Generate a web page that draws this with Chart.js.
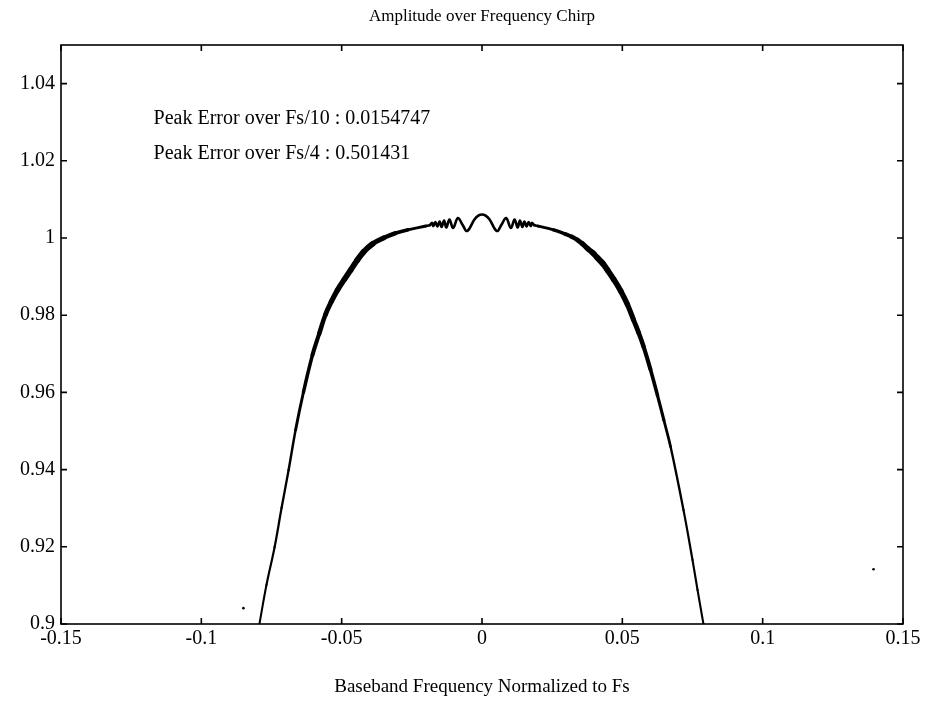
<!DOCTYPE html>
<html>
<head>
<meta charset="utf-8">
<script src="https://cdn.jsdelivr.net/npm/chart.js@4/dist/chart.umd.min.js"></script>
<style>
    html, body { margin: 0; padding: 0; background: #fff; }
    #wrap { width: 925px; height: 710px; }
</style>
</head>
<body>
<div id="wrap"><canvas id="chirpChart"></canvas></div>
<script>
// Values (x = baseband frequency / Fs, y = amplitude)
const freq = [
    -0.0793, -0.0768, -0.0739, -0.0714, -0.0689, -0.0664, -0.0636, -0.0604,
    -0.0580, -0.0558, -0.0537, -0.0515, -0.0490, -0.0468, -0.0445, -0.0422,
    -0.0390, -0.0351, -0.0310, -0.0265, -0.0200,
    -0.0185, -0.0178, -0.0173, -0.0166, -0.0159, -0.0151, -0.0144, -0.0135,
    -0.0127, -0.0116, -0.0103, -0.0086, -0.0070, -0.0053, -0.0027, -0.0013,
    0,
    0.0013, 0.0027, 0.0053, 0.0070, 0.0086, 0.0103, 0.0116, 0.0127,
    0.0135, 0.0144, 0.0151, 0.0159, 0.0166, 0.0173, 0.0178, 0.0185,
    0.0200, 0.0255, 0.0297, 0.0320, 0.0340, 0.0358, 0.0376, 0.0394,
    0.0411, 0.0430, 0.0447, 0.0470, 0.0494, 0.0518, 0.0540, 0.0558,
    0.0576, 0.0600, 0.0625, 0.0648, 0.0672, 0.0718, 0.0750, 0.0768, 0.0789
];
const amplitude = [
    0.9000, 0.9101, 0.9199, 0.9301, 0.9399, 0.9503, 0.9601, 0.9697,
    0.9752, 0.9801, 0.9835, 0.9865, 0.9893, 0.9917, 0.9942, 0.9964,
    0.9985, 1.0000, 1.0012, 1.0021, 1.0031,
    1.00337, 1.00389, 1.00311, 1.00415, 1.00298, 1.00427, 1.00285, 1.00453,
    1.00272, 1.00479, 1.00259, 1.00518, 1.0035, 1.00181, 1.0048, 1.0058,
    1.00609,
    1.0058, 1.0048, 1.00181, 1.0035, 1.00518, 1.00259, 1.00479, 1.00272,
    1.00453, 1.00285, 1.00427, 1.00298, 1.00415, 1.00311, 1.00389, 1.00337,
    1.0031, 1.0021, 1.0010, 1.0003, 0.9995, 0.9985, 0.9973, 0.9962,
    0.9949, 0.9934, 0.9917, 0.9892, 0.9863, 0.9828, 0.9788, 0.9755,
    0.9718, 0.9660, 0.9593, 0.9528, 0.9459, 0.9295, 0.9166, 0.9088, 0.9000
];

// stray specks on the scanned plot
const speckFreq = [-0.0850, 0.1395];
const speckAmp = [0.9041, 0.9142];

const xTicks = [-0.15, -0.1, -0.05, 0, 0.05, 0.1, 0.15];
const yTicks = [0.9, 0.92, 0.94, 0.96, 0.98, 1, 1.02, 1.04];

const notes = [
    'Peak Error over Fs/10 : 0.0154747',
    'Peak Error over Fs/4 : 0.501431'
];

const serif = '"Liberation Serif", "DejaVu Serif", serif';

// the noisy stretch of the trace reads as a thicker band on the original
const widthStops = [[0, 2.6], [0.018, 2.6], [0.025, 3], [0.033, 4.5], [0.042, 6],
    [0.05, 5.5], [0.057, 4.5], [0.062, 3.5], [0.068, 2.4], [0.08, 2]];
function traceWidth(x) {
    const a = Math.abs(x);
    for (let i = 1; i < widthStops.length; i++) {
        const [x0, w0] = widthStops[i - 1];
        const [x1, w1] = widthStops[i];
        if (a <= x1) return w0 + (w1 - w0) * (a - x0) / (x1 - x0);
    }
    return 2;
}

// box frame with inward ticks on all four sides, plus the two text notes
const framePlugin = {
    id: 'frame',
    afterDraw(chart) {
        const { ctx, chartArea: a, scales } = chart;
        const len = 6;
        ctx.save();
        ctx.strokeStyle = '#000';
        ctx.lineWidth = 1.6;
        ctx.strokeRect(a.left, a.top, a.right - a.left, a.bottom - a.top);
        ctx.beginPath();
        xTicks.forEach(v => {
            const px = scales.x.getPixelForValue(v);
            ctx.moveTo(px, a.bottom); ctx.lineTo(px, a.bottom - len);
            ctx.moveTo(px, a.top); ctx.lineTo(px, a.top + len);
        });
        yTicks.forEach(v => {
            const py = scales.y.getPixelForValue(v);
            ctx.moveTo(a.left, py); ctx.lineTo(a.left + len, py);
            ctx.moveTo(a.right, py); ctx.lineTo(a.right - len, py);
        });
        ctx.stroke();

        ctx.fillStyle = '#000';
        ctx.font = '20px ' + serif;
        ctx.textBaseline = 'middle';
        ctx.textAlign = 'left';
        const nx = scales.x.getPixelForValue(-0.117);
        ctx.fillText(notes[0], nx, scales.y.getPixelForValue(1.0308));
        ctx.fillText(notes[1], nx, scales.y.getPixelForValue(1.0218));
        ctx.restore();
    }
};

function createChirpChart() {
    const ctx = document.getElementById('chirpChart').getContext('2d');
    new Chart(ctx, {
        type: 'line',
        data: {
            datasets: [
                {
                    label: 'Amplitude',
                    data: freq.map((f, i) => ({ x: f, y: amplitude[i] })),
                    borderColor: '#000',
                    borderWidth: 2,
                    borderCapStyle: 'round',
                    borderJoinStyle: 'round',
                    pointRadius: 0,
                    tension: 0.4,
                    segment: {
                        borderWidth: c => traceWidth((c.p0.parsed.x + c.p1.parsed.x) / 2)
                    }
                },
                {
                    label: 'Specks',
                    type: 'scatter',
                    data: speckFreq.map((f, i) => ({ x: f, y: speckAmp[i] })),
                    pointRadius: 1.3,
                    pointBackgroundColor: '#000',
                    pointBorderWidth: 0
                }
            ]
        },
        options: {
            responsive: true,
            maintainAspectRatio: false,
            animation: false,
            layout: { padding: { left: 0, right: 22, top: 0, bottom: 0 } },
            plugins: {
                legend: { display: false },
                tooltip: { enabled: false },
                title: {
                    display: true,
                    fullSize: false,
                    text: 'Amplitude over Frequency Chirp',
                    color: '#000',
                    font: { family: serif, size: 17, weight: 'normal' },
                    padding: { top: 6, bottom: 18.6 }
                }
            },
            scales: {
                x: {
                    type: 'linear',
                    min: -0.15,
                    max: 0.15,
                    afterBuildTicks: s => { s.ticks = xTicks.map(v => ({ value: v })); },
                    afterFit: s => { s.height = 86; },
                    grid: { display: false, drawTicks: false },
                    border: { display: false },
                    ticks: {
                        color: '#000',
                        font: { family: serif, size: 20 },
                        padding: 3,
                        maxRotation: 0,
                        autoSkip: false,
                        callback: v => String(v)
                    },
                    title: {
                        display: true,
                        text: 'Baseband Frequency Normalized to Fs',
                        color: '#000',
                        font: { family: serif, size: 19 },
                        padding: { top: 4, bottom: 12 }
                    }
                },
                y: {
                    type: 'linear',
                    min: 0.9,
                    max: 1.05,
                    afterBuildTicks: s => { s.ticks = yTicks.map(v => ({ value: v })); },
                    afterFit: s => { s.width = 61; },
                    grid: { display: false, drawTicks: false },
                    border: { display: false },
                    ticks: {
                        color: '#000',
                        font: { family: serif, size: 20 },
                        padding: 6,
                        autoSkip: false,
                        callback: v => String(v)
                    }
                }
            }
        },
        plugins: [framePlugin]
    });
}

createChirpChart();
</script>
</body>
</html>
